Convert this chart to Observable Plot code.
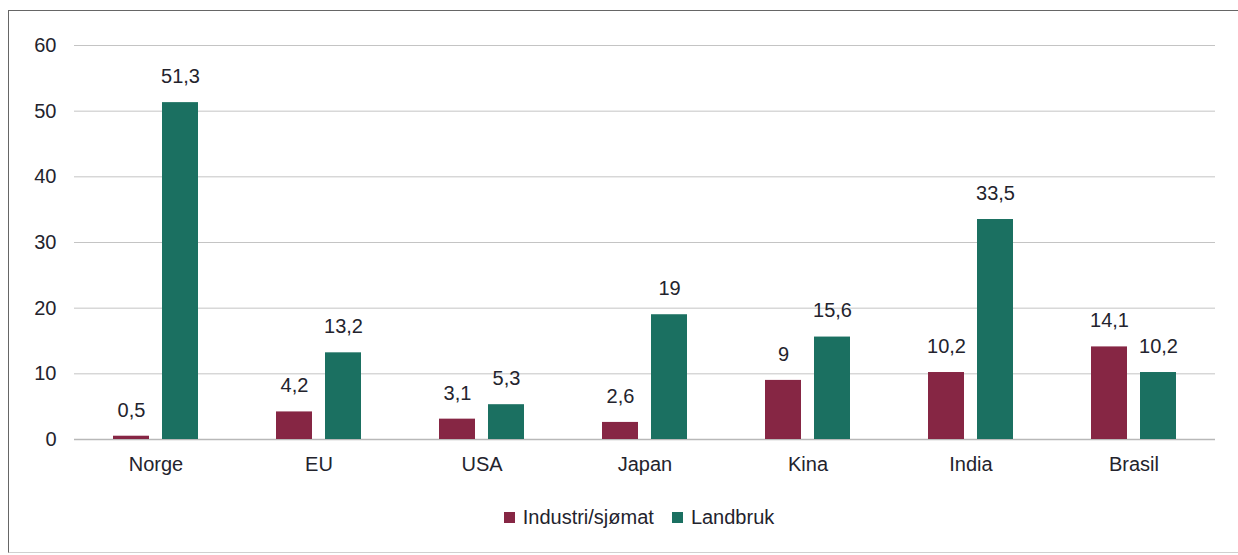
<!DOCTYPE html>
<html>
<head>
<meta charset="utf-8">
<script src="https://cdn.jsdelivr.net/npm/d3@7"></script>
<script src="https://cdn.jsdelivr.net/npm/@observablehq/plot@0.6"></script>
<style>
  html, body { margin: 0; padding: 0; background: #fff; }
  body { width: 1238px; height: 555px; position: relative; overflow: hidden; font-family: "Liberation Sans", Arial, sans-serif; }
  #frame { position: absolute; left: 8px; top: 10px; width: 1240px; height: 543px; border: 1px solid #666; border-right: none; border-bottom-color: #d0d0d0; box-sizing: border-box; }
  #chart { position: absolute; left: 0; top: 0; }
  #legend { position: absolute; left: 0; width: 1238px; top: 506px; display: flex; justify-content: center; gap: 18px; font-size: 20px; color: #23232d; padding-left: 40px; box-sizing: border-box; }
  #legend .item { display: flex; align-items: center; gap: 8px; }
  #legend .sw { width: 11px; height: 11px; display: inline-block; }
</style>
</head>
<body>
<div id="frame"></div>
<div id="chart"></div>
<div id="legend"></div>
<script>
const categories = ["Norge", "EU", "USA", "Japan", "Kina", "India", "Brasil"];
const industri = [0.5, 4.2, 3.1, 2.6, 9, 10.2, 14.1];
const landbruk = [51.3, 13.2, 5.3, 19, 15.6, 33.5, 10.2];
const series = ["Industri/sjømat", "Landbruk"];
const colors = ["#862644", "#1b7061"];
const yTicks = [0, 10, 20, 30, 40, 50, 60];

const data = categories.flatMap((c, i) => [
  {cat: c, s: series[0], v: industri[i]},
  {cat: c, s: series[1], v: landbruk[i]}
]);

const fmt = v => String(v).replace(".", ",");

const chart = Plot.plot({
  width: 1238,
  height: 500,
  marginLeft: 71,
  marginRight: 20,
  marginTop: 45,
  marginBottom: 61,
  style: {fontFamily: "Liberation Sans, Arial, sans-serif", fontSize: "20px", color: "#23232d", background: "transparent"},
  fx: {domain: categories, padding: 0, label: null, axis: "bottom", tickSize: 0, tickPadding: 17},
  x: {domain: series, paddingInner: 0.26, paddingOuter: 0.78, axis: null},
  y: {domain: [0, 60], ticks: yTicks, tickSize: 0, tickPadding: 18, label: null, tickFormat: d => d},
  color: {domain: series, range: colors},
  marks: [
    Plot.gridY(yTicks, {stroke: "#c4c4c4", strokeOpacity: 1}),
    Plot.ruleY([0], {stroke: "#b8b8b8", strokeWidth: 1.5}),
    Plot.barY(data, {fx: "cat", x: "s", y: "v", fill: "s"}),
    Plot.text(data, {fx: "cat", x: "s", y: "v", text: d => fmt(d.v), dy: -26, fill: "#23232d", fontSize: 20})
  ]
});
document.getElementById("chart").appendChild(chart);

const legend = document.getElementById("legend");
series.forEach((s, i) => {
  const item = document.createElement("span");
  item.className = "item";
  const sw = document.createElement("span");
  sw.className = "sw";
  sw.style.background = colors[i];
  const t = document.createElement("span");
  t.textContent = s;
  item.appendChild(sw);
  item.appendChild(t);
  legend.appendChild(item);
});
</script>
</body>
</html>
